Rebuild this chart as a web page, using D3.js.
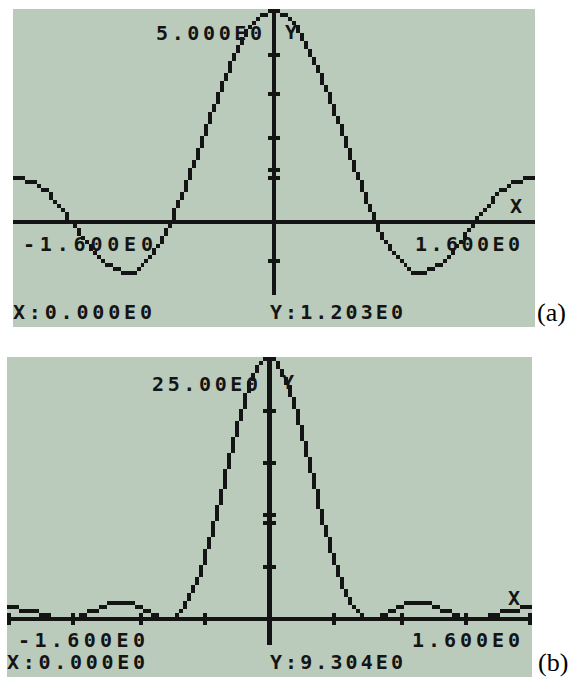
<!DOCTYPE html>
<html>
<head>
<meta charset="utf-8">
<script src="https://cdn.jsdelivr.net/npm/d3@7/dist/d3.min.js"></script>
<style>
  html, body { margin: 0; padding: 0; background: #ffffff; }
  svg { display: block; }
  .lcd { font-family: "DejaVu Sans Mono", "Liberation Mono", monospace; font-weight: bold; fill: #141414; }
  .tag { font-family: "Liberation Serif", "DejaVu Serif", serif; fill: #000; }
</style>
</head>
<body>
<svg id="chart" width="570" height="684"></svg>
<script>
// Abscissae shared by both plots
const xValues = [-1.6, -1.5, -1.4, -1.3, -1.2, -1.1, -1.0, -0.9, -0.8, -0.7, -0.6, -0.5, -0.4, -0.3, -0.2, -0.1,
                 0,
                 0.1, 0.2, 0.3, 0.4, 0.5, 0.6, 0.7, 0.8, 0.9, 1.0, 1.1, 1.2, 1.3, 1.4, 1.5, 1.6];
// (a) amplitude
const amplitudeValues = [0.99, 0.94, 0.67, 0.22, -0.30, -0.79, -1.14, -1.25, -1.06, -0.54, 0.25, 1.25, 2.34, 3.38, 4.24, 4.80,
                         5.00,
                         4.80, 4.24, 3.38, 2.34, 1.25, 0.25, -0.54, -1.06, -1.25, -1.14, -0.79, -0.30, 0.22, 0.67, 0.94, 0.99];
// (b) squared amplitude
const powerValues = [0.98, 0.88, 0.45, 0.05, 0.09, 0.62, 1.30, 1.56, 1.12, 0.29, 0.06, 1.56, 5.48, 11.42, 17.98, 23.04,
                     25.00,
                     23.04, 17.98, 11.42, 5.48, 1.56, 0.06, 0.29, 1.12, 1.56, 1.30, 0.62, 0.09, 0.05, 0.45, 0.88, 0.98];

const xDomain = [-1.6, 1.6];
const amplitudeYTicks = [-1, 1, 2, 3, 4];
const powerYTicks = [5, 10, 15, 20];
const powerXTicks = [-1.6, -1.2, -0.8, -0.4, 0.4, 0.8, 1.2, 1.6];
const xRangeLabels = ["-1.600E0", "1.600E0"];
const yMaxLabels = ["5.000E0", "25.00E0"];
const cursorXLabels = ["X:0.000E0", "X:0.000E0"];
const cursorYLabels = ["Y:1.203E0", "Y:9.304E0"];
const cursorYValues = [1.203, 9.304];
const panelTags = ["(a)", "(b)"];

const COLS = 131, ROWS = 80, PLOT_ROWS = 72;
const INK = "#141414";
const svg = d3.select("#chart");

const panels = [
  {
    left: 13, top: 9, width: 522, height: 318,
    yDomain: [-2.5, 5], values: amplitudeValues, yTicks: amplitudeYTicks, xTicks: [],
    yMax: { text: yMaxLabels[0], x: 156, y: 40, w: 106 },
    yName: { x: 285, y: 39 },
    xMin: { text: xRangeLabels[0], x: 23, y: 251, w: 130 },
    xMax: { text: xRangeLabels[1], x: 415, y: 251, w: 105 },
    xName: { x: 510, y: 213 },
    statusY: 319, statusX: [13, 270], statusW: [139, 133],
    cursorX: cursorXLabels[0], cursorY: cursorYLabels[0], cursorValue: cursorYValues[0],
    tag: { text: panelTags[0], x: 537, y: 321 }
  },
  {
    left: 7, top: 357, width: 525, height: 320,
    yDomain: [-5.4, 25], values: powerValues, yTicks: powerYTicks, xTicks: powerXTicks,
    yMax: { text: yMaxLabels[1], x: 152, y: 391, w: 106 },
    yName: { x: 282, y: 389 },
    xMin: { text: xRangeLabels[0], x: 18, y: 647, w: 127 },
    xMax: { text: xRangeLabels[1], x: 412, y: 647, w: 108 },
    xName: { x: 508, y: 605 },
    statusY: 669, statusX: [7, 270], statusW: [138, 133],
    cursorX: cursorXLabels[1], cursorY: cursorYLabels[1], cursorValue: cursorYValues[1],
    tag: { text: panelTags[1], x: 538, y: 671 }
  }
];

panels.forEach(p => {
  const g = svg.append("g");

  // LCD screen background
  g.append("rect")
    .attr("x", p.left).attr("y", p.top)
    .attr("width", p.width).attr("height", p.height)
    .attr("fill", "#bacabb");

  // data -> LCD column/row
  const col = d3.scaleLinear().domain(xDomain).range([0, COLS - 1]);
  const row = d3.scaleLinear().domain(p.yDomain).range([ROWS - 1, 0]);
  // LCD column/row edge -> screen pixels
  const px = d3.scaleLinear().domain([0, COLS]).range([p.left, p.left + p.width]);
  const py = d3.scaleLinear().domain([0, ROWS]).range([p.top, p.top + p.height]);

  const pixels = g.append("g").attr("fill", INK).attr("shape-rendering", "crispEdges");
  const block = (c0, r0, c1, r1) => {
    const x0 = Math.round(px(c0)), x1 = Math.round(px(c1 + 1));
    const y0 = Math.round(py(r0)), y1 = Math.round(py(r1 + 1));
    pixels.append("rect").attr("x", x0).attr("y", y0).attr("width", x1 - x0).attr("height", y1 - y0);
  };

  const axisRow = Math.round(row(0));
  const axisCol = Math.round(col(0));

  // axes
  block(0, axisRow, COLS - 1, axisRow);
  block(axisCol, 0, axisCol, PLOT_ROWS - 1);

  // y ticks and cursor mark
  p.yTicks.concat([p.cursorValue]).forEach(v => {
    const r = Math.round(row(v));
    if (r >= 0 && r < PLOT_ROWS) block(axisCol - 1, r, axisCol + 1, r);
  });
  // x ticks
  p.xTicks.forEach(v => {
    const c = Math.min(COLS - 1, Math.round(col(v)));
    block(c, axisRow - 1, c, axisRow + 1);
  });

  // curve: smooth line through the samples, then rasterised column by column
  const pts = xValues.map((x, i) => [col(x), row(p.values[i])]);
  const line = d3.line().curve(d3.curveMonotoneX);
  const guide = g.append("path").attr("d", line(pts))
    .attr("fill", "none").attr("stroke", "none");
  const node = guide.node();
  const total = node.getTotalLength();
  const samples = [];
  for (let i = 0; i <= 4000; i++) {
    const q = node.getPointAtLength(total * i / 4000);
    samples.push([q.x, q.y]);
  }
  samples.sort((a, b) => a[0] - b[0]);
  const bis = d3.bisector(d => d[0]).left;
  const rowAt = c => {
    let i = bis(samples, c);
    if (i <= 0) return samples[0][1];
    if (i >= samples.length) return samples[samples.length - 1][1];
    const a = samples[i - 1], b = samples[i];
    const t = b[0] === a[0] ? 0 : (c - a[0]) / (b[0] - a[0]);
    return a[1] + t * (b[1] - a[1]);
  };
  const rows = d3.range(COLS).map(c => Math.round(rowAt(c)));
  const cells = new Set();
  const put = (c, r) => { if (r >= 0 && r < PLOT_ROWS) cells.add(c + "," + r); };
  rows.forEach((r, c) => {
    put(c, r);
    if (c < COLS - 1) {
      const r1 = rows[c + 1];
      const d = r1 - r;
      if (Math.abs(d) > 1) {
        const s = Math.sign(d);
        const n = Math.abs(d) - 1;
        for (let k = 1; k <= n; k++) put(k <= Math.ceil(n / 2) ? c : c + 1, r + s * k);
      }
    }
  });
  cells.forEach(key => {
    const [c, r] = key.split(",").map(Number);
    block(c, r, c, r);
  });

  // LCD text: narrow glyphs on a wide character pitch
  const lcdText = (t, x, y, w) => {
    const el = g.append("text").attr("class", "lcd").attr("x", x).attr("y", y)
      .attr("font-size", 20).text(t);
    if (w) el.attr("textLength", w).attr("lengthAdjust", "spacing");
    return el;
  };
  lcdText(p.yMax.text, p.yMax.x, p.yMax.y, p.yMax.w);
  lcdText("Y", p.yName.x, p.yName.y);
  lcdText(p.xMin.text, p.xMin.x, p.xMin.y, p.xMin.w);
  lcdText(p.xMax.text, p.xMax.x, p.xMax.y, p.xMax.w);
  lcdText("X", p.xName.x, p.xName.y);
  lcdText(p.cursorX, p.statusX[0], p.statusY, p.statusW[0]);
  lcdText(p.cursorY, p.statusX[1], p.statusY, p.statusW[1]);

  // panel tag
  svg.append("text").attr("class", "tag")
    .attr("x", p.tag.x).attr("y", p.tag.y)
    .attr("font-size", 26).text(p.tag.text);
});
</script>
</body>
</html>
